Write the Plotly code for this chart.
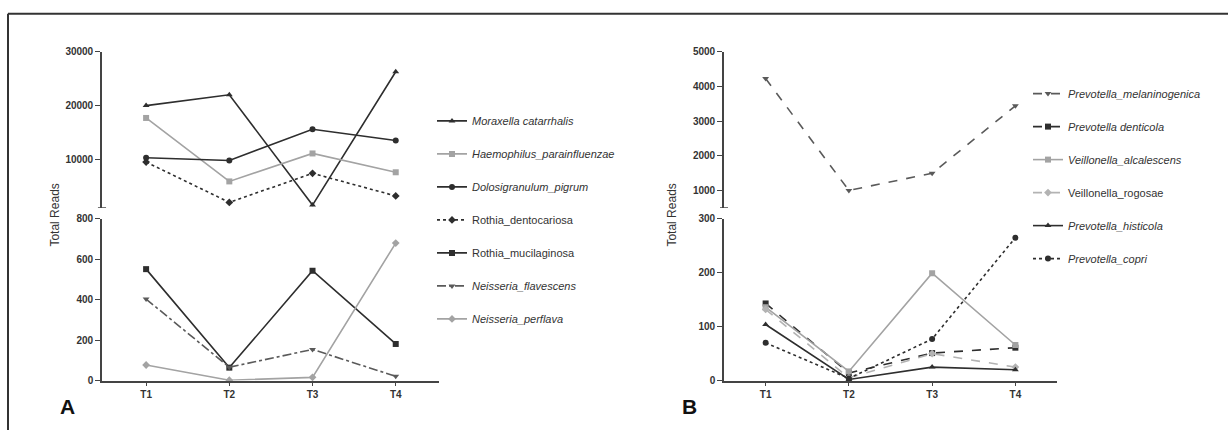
import plotly.graph_objects as go

W, H = 1228, 435


def px(x):
    return x / W


def py(y):
    return 1 - y / H


timepoints = [1, 2, 3, 4]
tick_labels = ["T1", "T2", "T3", "T4"]

# Panel A - upper segment (1000-30000)
moraxella_catarrhalis = [20000, 22000, 1500, 26300]
haemophilus_parainfluenzae = [17700, 5900, 11100, 7600]
dolosigranulum_pigrum = [10300, 9800, 15600, 13500]
rothia_dentocariosa = [9500, 2000, 7400, 3200]
# Panel A - lower segment (0-800)
rothia_mucilaginosa = [551, 64, 543, 181]
neisseria_flavescens = [403, 66, 154, 21]
neisseria_perflava = [77, 2, 16, 680]

# Panel B - upper segment (500-5000)
prevotella_melaninogenica = [4230, 1000, 1495, 3440]
# Panel B - lower segment (0-300)
prevotella_denticola = [143, 14, 51, 61]
veillonella_alcalescens = [136, 17, 199, 66]
veillonella_rogosae = [132, 5, 50, 25]
prevotella_histicola = [104, 2, 25, 20]
prevotella_copri = [70, 4, 77, 265]

DARK = "#2e2e2e"
MID = "#5a5a5a"
LIGHT = "#a3a3a3"
LIGHTER = "#b3b3b3"
FONT = "Arial, Liberation Sans, sans-serif"

fig = go.Figure()


def add(name, y, xa, ya, color, symbol, dash, legend, size=6):
    fig.add_trace(go.Scatter(
        x=timepoints, y=y, name=name, xaxis=xa, yaxis=ya,
        mode="lines+markers",
        line=dict(color=color, width=1.6, dash=dash),
        marker=dict(color=color, symbol=symbol, size=size),
        cliponaxis=False, legend=legend, legendgroup=name,
    ))


# Panel A
add("<i>Moraxella catarrhalis</i>", moraxella_catarrhalis, "x", "y2", DARK, "triangle-up", "solid", "legend")
add("<i>Haemophilus_parainfluenzae</i>", haemophilus_parainfluenzae, "x", "y2", LIGHT, "square", "solid", "legend")
add("<i>Dolosigranulum_pigrum</i>", dolosigranulum_pigrum, "x", "y2", DARK, "circle", "solid", "legend")
add("Rothia_dentocariosa", rothia_dentocariosa, "x", "y2", DARK, "diamond", "dot", "legend")
add("Rothia_mucilaginosa", rothia_mucilaginosa, "x", "y", DARK, "square", "solid", "legend")
add("<i>Neisseria_flavescens</i>", neisseria_flavescens, "x", "y", MID, "triangle-down", "dashdot", "legend")
add("<i>Neisseria_perflava</i>", neisseria_perflava, "x", "y", LIGHT, "diamond", "solid", "legend")

# Panel B
add("<i>Prevotella_melaninogenica</i>", prevotella_melaninogenica, "x2", "y4", MID, "triangle-down", "dash", "legend2")
add("<i>Prevotella denticola</i>", prevotella_denticola, "x2", "y3", DARK, "square", "dash", "legend2")
add("<i>Veillonella_alcalescens</i>", veillonella_alcalescens, "x2", "y3", LIGHT, "square", "solid", "legend2")
add("Veillonella_rogosae", veillonella_rogosae, "x2", "y3", LIGHTER, "diamond", "dash", "legend2")
add("<i>Prevotella_histicola</i>", prevotella_histicola, "x2", "y3", DARK, "triangle-up", "solid", "legend2")
add("<i>Prevotella_copri</i>", prevotella_copri, "x2", "y3", DARK, "circle", "dot", "legend2")

tickfont = dict(family=FONT, size=10, color="#333", weight="bold")
ycommon = dict(showgrid=False, zeroline=False, showline=True, linecolor="#444",
               linewidth=1.6, ticks="outside", ticklen=5, tickwidth=1.4,
               tickcolor="#444", tickfont=tickfont, fixedrange=True, tickformat="d")
xcommon = dict(showgrid=False, zeroline=False, showline=True, linecolor="#444",
               linewidth=1.6, ticks="outside", ticklen=4, tickwidth=1.4,
               tickcolor="#444", tickfont=tickfont, fixedrange=True)

lower_dom = [py(384.3), py(218.3)]
upper_dom = [py(207), py(47)]

fig.update_layout(
    width=W, height=H,
    margin=dict(l=0, r=0, t=0, b=0),
    paper_bgcolor="white", plot_bgcolor="white",
    font=dict(family=FONT, color="#333"),
    xaxis=dict(domain=[px(102), px(439)], range=[0.47, 4.52], anchor="y",
               tickvals=timepoints, ticktext=tick_labels, **xcommon),
    yaxis=dict(domain=lower_dom, range=[0, 800], anchor="x",
               tickvals=[0, 200, 400, 600, 800], **ycommon),
    yaxis2=dict(domain=upper_dom, range=[1000, 30000], anchor="x",
                tickvals=[10000, 20000, 30000], **ycommon),
    xaxis2=dict(domain=[px(724), px(1057)], range=[0.5, 4.5], anchor="y3",
                tickvals=timepoints, ticktext=tick_labels, **xcommon),
    yaxis3=dict(domain=lower_dom, range=[0, 300], anchor="x2",
                tickvals=[0, 100, 200, 300], **ycommon),
    yaxis4=dict(domain=upper_dom, range=[500, 5000], anchor="x2",
                tickvals=[1000, 2000, 3000, 4000, 5000], **ycommon),
    legend=dict(x=px(432), y=py(103), xanchor="left", yanchor="top",
                font=dict(family=FONT, size=11, color="#333"),
                tracegroupgap=14, bgcolor="rgba(0,0,0,0)"),
    legend2=dict(x=px(1028), y=py(75), xanchor="left", yanchor="top",
                 font=dict(family=FONT, size=11, color="#333"),
                 tracegroupgap=14, bgcolor="rgba(0,0,0,0)"),
    showlegend=True,
)

# axis break caps at the bottom of upper segments
for xref, yref, yv in [("x domain", "y2", 1000), ("x2 domain", "y4", 500)]:
    fig.add_shape(type="line", xref=xref, yref=yref, x0=-0.012, x1=0.012,
                  y0=yv, y1=yv, line=dict(color="#444", width=1.4))

# frame lines (top and left)
fig.add_shape(type="line", xref="paper", yref="paper", x0=px(8), x1=1, y0=py(8), y1=py(8),
              line=dict(color="#333", width=2))
fig.add_shape(type="line", xref="paper", yref="paper", x0=px(8), x1=px(8), y0=0, y1=py(8),
              line=dict(color="#333", width=2))

annots = [
    dict(text="Total Reads", x=px(55), y=py(215), textangle=-90, font=dict(size=12, color="#333")),
    dict(text="Total Reads", x=px(672), y=py(215), textangle=-90, font=dict(size=12, color="#333")),
    dict(text="<b>A</b>", x=px(67), y=py(411), font=dict(size=21, color="#111")),
    dict(text="<b>B</b>", x=px(689), y=py(411), font=dict(size=21, color="#111")),
]
for a in annots:
    fig.add_annotation(xref="paper", yref="paper", showarrow=False,
                       xanchor="center", yanchor="middle", **a)

fig.write_html("out.html", config={"displayModeBar": False},
               post_script="document.body.style.margin='0';document.body.style.overflow='hidden';")
